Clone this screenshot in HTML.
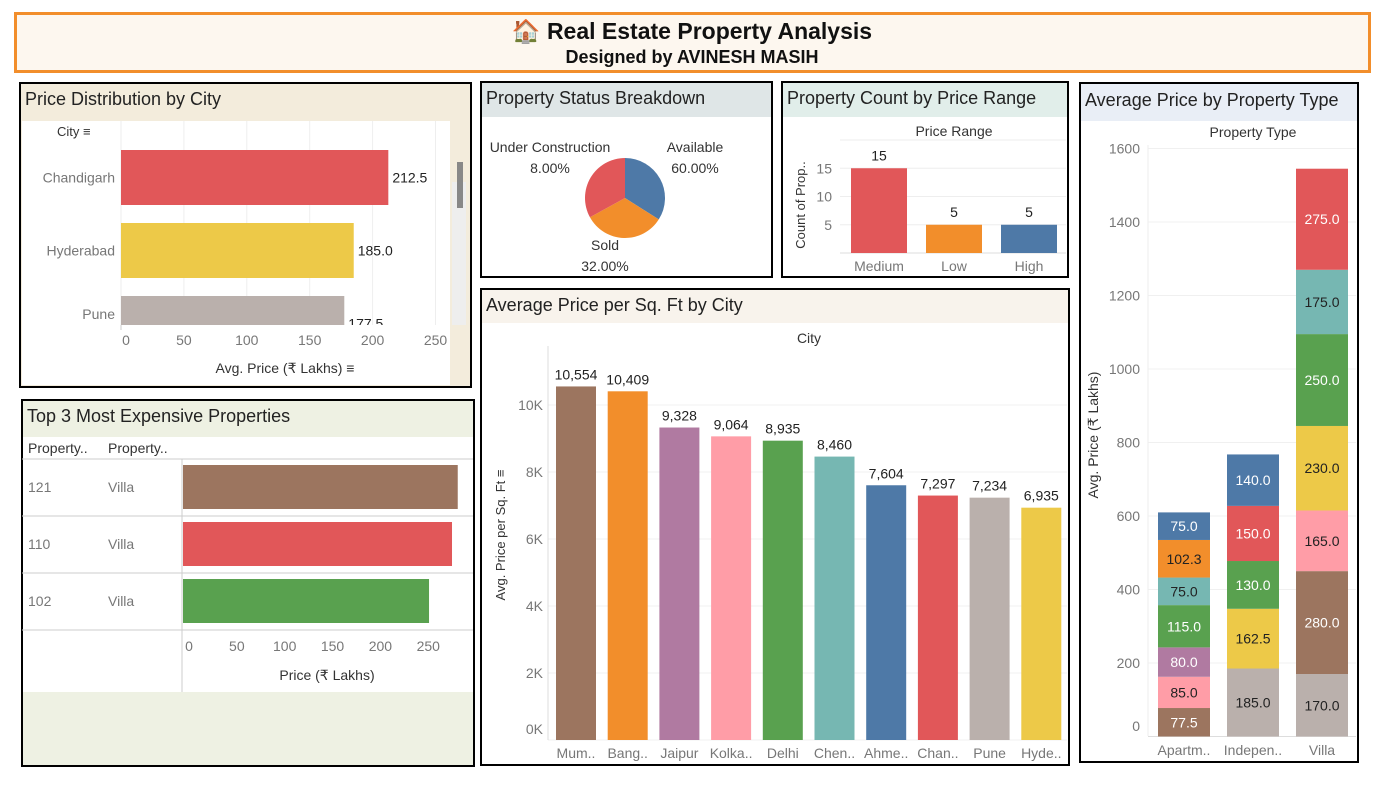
<!DOCTYPE html>
<html><head><meta charset="utf-8"><style>
html,body{margin:0;padding:0;background:#fff;}
svg{display:block;font-family:"Liberation Sans",sans-serif;}
</style></head><body>
<svg id="s" width="1382" height="789" viewBox="0 0 1382 789" xmlns="http://www.w3.org/2000/svg">
<!-- Title -->
<rect x="15.5" y="13.5" width="1354" height="58" fill="#fdf7ef" stroke="#f28e2b" stroke-width="3"/>
<text x="692" y="39" text-anchor="middle" font-size="23" font-weight="bold" fill="#111">🏠 Real Estate Property Analysis</text>
<text x="692" y="63" text-anchor="middle" font-size="18" font-weight="bold" fill="#111">Designed by AVINESH MASIH</text>

<!-- Panel 1 -->
<g>
<rect x="20" y="83" width="451" height="304" fill="#f3ecdc"/>
<rect x="22" y="121" width="428" height="264" fill="#fff"/>
<rect x="452" y="182" width="14" height="143" fill="#eeeeee"/>
<rect x="457" y="162" width="6" height="46" fill="#888"/>
<rect x="20" y="83" width="451" height="304" fill="none" stroke="#000" stroke-width="2"/>
<text x="25" y="105" font-size="18" fill="#222">Price Distribution by City</text>
<text x="57" y="136" font-size="13" fill="#333">City ≡</text>
<g id="p1"></g>
<text x="285" y="373" text-anchor="middle" font-size="14" fill="#333">Avg. Price (₹ Lakhs) ≡</text>
</g>

<!-- Panel 2 -->
<g>
<rect x="22" y="400" width="452" height="366" fill="#fff"/>
<rect x="22" y="400" width="452" height="37" fill="#eef1e3"/>
<rect x="22" y="692" width="452" height="74" fill="#eef1e3"/>
<rect x="22" y="400" width="452" height="366" fill="none" stroke="#000" stroke-width="2"/>
<text x="27" y="422" font-size="18" fill="#222">Top 3 Most Expensive Properties</text>
<text x="28" y="453" font-size="14" fill="#333">Property..</text>
<text x="108" y="453" font-size="14" fill="#333">Property..</text>
<line x1="22" y1="459" x2="473" y2="459" stroke="#ccc"/>
<line x1="182" y1="459" x2="182" y2="692" stroke="#ccc"/>
<g id="p2"></g>
<text x="327" y="680" text-anchor="middle" font-size="14" fill="#333">Price (₹ Lakhs)</text>
</g>

<!-- Panel 3 -->
<g>
<rect x="481" y="82" width="291" height="195" fill="#fff"/>
<rect x="481" y="82" width="291" height="35" fill="#dfe6e7"/>
<rect x="481" y="82" width="291" height="195" fill="none" stroke="#000" stroke-width="2"/>
<text x="486" y="104" font-size="18" fill="#222">Property Status Breakdown</text>
<g id="p3"></g>
</g>

<!-- Panel 4 -->
<g>
<rect x="782" y="82" width="286" height="195" fill="#fff"/>
<rect x="782" y="82" width="286" height="35" fill="#e1eeea"/>
<rect x="782" y="82" width="286" height="195" fill="none" stroke="#000" stroke-width="2"/>
<text x="787" y="104" font-size="18" fill="#222">Property Count by Price Range</text>
<text x="954" y="136" text-anchor="middle" font-size="14" fill="#333">Price Range</text>
<text transform="translate(805,205) rotate(-90)" text-anchor="middle" font-size="13" fill="#333">Count of Prop..</text>
<g id="p4"></g>
</g>

<!-- Panel 5 -->
<g>
<rect x="481" y="289" width="588" height="476" fill="#fff"/>
<rect x="481" y="289" width="588" height="34" fill="#f8f3ec"/>
<rect x="481" y="289" width="588" height="476" fill="none" stroke="#000" stroke-width="2"/>
<text x="486" y="311" font-size="18" fill="#222">Average Price per Sq. Ft by City</text>
<text x="809" y="343" text-anchor="middle" font-size="14" fill="#333">City</text>
<text transform="translate(505,535) rotate(-90)" text-anchor="middle" font-size="13" fill="#333">Avg. Price per Sq. Ft ≡</text>
<g id="p5"></g>
</g>

<!-- Panel 6 -->
<g>
<rect x="1080" y="83" width="278" height="679" fill="#fff"/>
<rect x="1080" y="83" width="278" height="38" fill="#e9eef6"/>
<rect x="1080" y="83" width="278" height="679" fill="none" stroke="#000" stroke-width="2"/>
<text x="1085" y="106" font-size="18" fill="#222">Average Price by Property Type</text>
<text x="1253" y="137" text-anchor="middle" font-size="14" fill="#333">Property Type</text>
<text transform="translate(1098,435) rotate(-90)" text-anchor="middle" font-size="14" fill="#333">Avg. Price (₹ Lakhs)</text>
<g id="p6"></g>
</g>
</svg>
<script>
// ---- data ----
const p1Cities = ["Chandigarh","Hyderabad","Pune"];
const p1Values = [212.5,185.0,177.5];
const p1Ticks = [0,50,100,150,200,250];
const p2Ids = ["121","110","102"];
const p2Types = ["Villa","Villa","Villa"];
const p2Values = [285,279,255];
const p2Ticks = [0,50,100,150,200,250];
const p3Labels = ["Available","Sold","Under Construction"];
const p3Pct = ["60.00%","32.00%","8.00%"];
const p3Slices = [34,33,33];
const p4Cats = ["Medium","Low","High"];
const p4Values = [15,5,5];
const p4Ticks = [5,10,15];
const p5Cities = ["Mum..","Bang..","Jaipur","Kolka..","Delhi","Chen..","Ahme..","Chan..","Pune","Hyde.."];
const p5Values = [10554,10409,9328,9064,8935,8460,7604,7297,7234,6935];
const p5Ticks = [0,2000,4000,6000,8000,10000];
const p6Types = ["Apartm..","Indepen..","Villa"];
const p6Apartment = [77.5,85,80,115,75,102.3,75];
const p6Independent = [185,162.5,130,150,140];
const p6Villa = [170,280,165,230,250,175,275];
const p6ApartmentColors = ["brown","pink","purple","green","teal","orange","blue"];
const p6IndependentColors = ["gray","yellow","green","red","blue"];
const p6VillaColors = ["gray","brown","pink","yellow","green","teal","red"];
const p6Ticks = [0,200,400,600,800,1000,1200,1400,1600];

const C={blue:"#4e79a7",orange:"#f28e2b",red:"#e15759",teal:"#76b7b2",green:"#59a14f",yellow:"#edc948",purple:"#b07aa1",pink:"#ff9da7",brown:"#9c755f",gray:"#bab0ac"};
const DARKTXT={pink:1,teal:1,orange:1,yellow:1,gray:1};
const NS="http://www.w3.org/2000/svg";
function mk(parent,tag,attrs,txt){const e=document.createElementNS(NS,tag);for(const k in attrs)e.setAttribute(k,attrs[k]);if(txt!==undefined)e.textContent=txt;parent.appendChild(e);return e;}
function fmt1(v){return v.toFixed(1);}

// Panel 1
(function(){
 const g=document.getElementById('p1');
 const x=v=>121+v*1.258; const rowY=[150,223,296], h=55;
 p1Ticks.forEach(t=>{mk(g,'line',{x1:x(t),y1:121,x2:x(t),y2:325,stroke:'#eee'});
  const l=mk(g,'text',{x:x(t)+(t===0?5:0),y:345,'text-anchor':'middle','font-size':14,fill:'#777'},t);
  
  });
 const clip=mk(g,'clipPath',{id:'c1'});mk(clip,'rect',{x:22,y:121,width:428,height:204});
 const bg=mk(g,'g',{'clip-path':'url(#c1)'});
 p1Values.forEach((v,i)=>{
  const r=mk(bg,'rect',{x:x(0),y:rowY[i],width:x(v)-x(0),height:h,fill:[C.red,C.yellow,C.gray][i]});
  
  
  mk(bg,'text',{x:x(v)+4,y:rowY[i]+h/2+5,'font-size':14,fill:'#222'},fmt1(v));
  const l=mk(g,'text',{x:115,y:Math.min(rowY[i]+h/2+5,319),'text-anchor':'end','font-size':14,fill:'#777'},p1Cities[i]);
  
  
 });
 mk(g,'line',{x1:121,y1:325,x2:121,y2:330,stroke:'#ccc'});
})();

// Panel 2
(function(){
 const g=document.getElementById('p2');
 const x=v=>185+v*0.957; const rowTop=[459,516,573];
 const cols=[C.brown,C.red,C.green];
 p2Values.forEach((v,i)=>{
  mk(g,'line',{x1:22,y1:rowTop[i]+57,x2:473,y2:rowTop[i]+57,stroke:'#ccc'});
  mk(g,'text',{x:28,y:rowTop[i]+33,'font-size':14,fill:'#777'},p2Ids[i]);
  mk(g,'text',{x:108,y:rowTop[i]+33,'font-size':14,fill:'#777'},p2Types[i]);
  const r=mk(g,'rect',{x:183,y:rowTop[i]+6,width:x(v)-183,height:44,fill:cols[i]});
  
  
 });
 p2Ticks.forEach(t=>{const l=mk(g,'text',{x:x(t)+4,y:651,'text-anchor':'middle','font-size':14,fill:'#777'},t);
  
  });
})();

// Panel 3 pie
(function(){
 const g=document.getElementById('p3');
 const cx=625,cy=198,r=40; const cols=[C.blue,C.orange,C.red];
 const tot=p3Slices.reduce((a,b)=>a+b,0); let a0=-Math.PI/2;
 p3Slices.forEach((v,i)=>{
  const a1=a0+v/tot*2*Math.PI;
  const p=mk(g,'path',{d:`M${cx},${cy} L${cx+r*Math.cos(a0)},${cy+r*Math.sin(a0)} A${r},${r} 0 ${a1-a0>Math.PI?1:0} 1 ${cx+r*Math.cos(a1)},${cy+r*Math.sin(a1)} Z`,fill:cols[i]});
  
  
  a0=a1;});
 const pos=[[695,152],[605,250],[550,152]];
 p3Labels.forEach((l,i)=>{mk(g,'text',{x:pos[i][0],y:pos[i][1],'text-anchor':'middle','font-size':14,fill:'#333'},l);
  mk(g,'text',{x:pos[i][0],y:pos[i][1]+21,'text-anchor':'middle','font-size':14,fill:'#333'},p3Pct[i]);});
})();

// Panel 4
(function(){
 const g=document.getElementById('p4');
 const y=v=>253-v*5.65; const xs=[851,926,1001], w=56;
 mk(g,'line',{x1:840,y1:140,x2:1066,y2:140,stroke:'#eee'});
 p4Ticks.forEach(t=>{mk(g,'line',{x1:840,y1:y(t),x2:1066,y2:y(t),stroke:'#eee'});
  const l=mk(g,'text',{x:832,y:y(t)+5,'text-anchor':'end','font-size':14,fill:'#777'},t);
  
  });
 mk(g,'line',{x1:840,y1:253,x2:1066,y2:253,stroke:'#ddd'});
 const cols=[C.red,C.orange,C.blue];
 p4Values.forEach((v,i)=>{
  const r=mk(g,'rect',{x:xs[i],y:y(v),width:w,height:253-y(v),fill:cols[i]});
  
  
  mk(g,'text',{x:xs[i]+w/2,y:y(v)-8,'text-anchor':'middle','font-size':14,fill:'#222'},v);
  mk(g,'text',{x:xs[i]+w/2,y:271,'text-anchor':'middle','font-size':14,fill:'#777'},p4Cats[i]);
 });
})();

// Panel 5
(function(){
 const g=document.getElementById('p5');
 const y=v=>740-v*0.0335; const cx=i=>576+i*51.7, w=40;
 const cols=[C.brown,C.orange,C.purple,C.pink,C.green,C.teal,C.blue,C.red,C.gray,C.yellow];
 p5Ticks.forEach(t=>{mk(g,'line',{x1:548,y1:y(t),x2:1067,y2:y(t),stroke:'#f0f0f0'});
  const l=mk(g,'text',{x:543,y:Math.min(y(t)+5,734),'text-anchor':'end','font-size':14,fill:'#777'},(t/1000)+'K');
  
  });
 mk(g,'line',{x1:548,y1:346,x2:548,y2:740,stroke:'#ddd'});
 p5Values.forEach((v,i)=>{
  const r=mk(g,'rect',{x:cx(i)-w/2,y:y(v),width:w,height:740-y(v),fill:cols[i]});
  
  
  mk(g,'text',{x:cx(i),y:y(v)-7,'text-anchor':'middle','font-size':14,fill:'#222'},v.toLocaleString('en-US'));
  mk(g,'text',{x:cx(i),y:758,'text-anchor':'middle','font-size':14,fill:'#777'},p5Cities[i]);
 });
})();

// Panel 6
(function(){
 const g=document.getElementById('p6');
 const y=v=>736.5-v*0.3675; const xs=[1158,1227,1296], w=52;
 p6Ticks.forEach(t=>{mk(g,'line',{x1:1148,y1:y(t),x2:1356,y2:y(t),stroke:'#f0f0f0'});
  const l=mk(g,'text',{x:1140,y:Math.min(y(t)+5,731),'text-anchor':'end','font-size':14,fill:'#777'},t);
  
  });
 mk(g,'line',{x1:1148,y1:145,x2:1148,y2:736,stroke:'#eee'});
 mk(g,'line',{x1:1148,y1:736.5,x2:1356,y2:736.5,stroke:'#ddd'});
 const stacks=[[p6Apartment,p6ApartmentColors],[p6Independent,p6IndependentColors],[p6Villa,p6VillaColors]];
 stacks.forEach((s,i)=>{let base=0;
  s[0].forEach((v,j)=>{
   const c=s[1][j];
   const r=mk(g,'rect',{x:xs[i],y:y(base+v),width:w,height:y(base)-y(base+v),fill:C[c]});
   
   
   mk(g,'text',{x:xs[i]+w/2,y:(y(base)+y(base+v))/2+5,'text-anchor':'middle','font-size':14,fill:DARKTXT[c]?'#222':'#fff'},fmt1(v));
   base+=v;});
  mk(g,'text',{x:xs[i]+w/2,y:755,'text-anchor':'middle','font-size':14,fill:'#777'},p6Types[i]);
 });
})();
</script>
</body></html>
